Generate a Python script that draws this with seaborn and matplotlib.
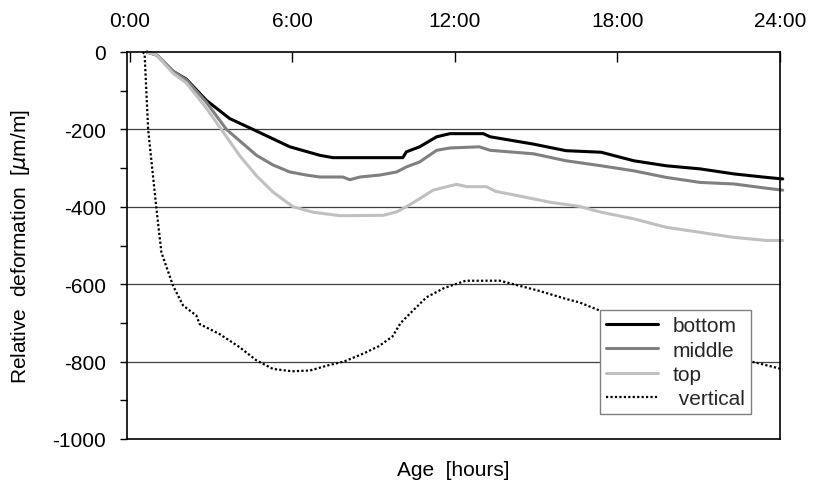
import numpy as np
import pandas as pd
import matplotlib
matplotlib.use("Agg")
import matplotlib.pyplot as plt
import seaborn as sns

# hours after casting, relative deformation in um/m
bottom_h = [0.63, 1.0, 1.6, 2.09, 2.83, 3.69, 4.55, 5.91, 7.02, 7.5, 10.08, 10.21, 10.7,
            11.33, 11.82, 13.05, 13.3, 14.9, 16.1, 17.4, 18.6, 19.8, 21.05, 22.3, 23.5, 24.1]
bottom_v = [0, -8, -50, -70, -125, -172, -200, -245, -267, -273, -273, -258, -245,
            -219, -211, -211, -219, -238, -255, -259, -281, -294, -302, -315, -324, -328]

middle_h = [0.63, 1.0, 1.6, 2.09, 2.83, 3.57, 4.68, 5.29, 5.91, 6.52, 7.02, 7.87, 8.12,
            8.5, 9.23, 9.85, 10.21, 10.7, 11.33, 11.82, 12.9, 13.3, 14.9, 16.1, 17.4,
            18.6, 19.8, 21.05, 22.3, 23.5, 24.1]
middle_v = [0, -8, -50, -72, -130, -200, -267, -292, -310, -318, -323, -323, -330,
            -323, -318, -310, -297, -284, -254, -248, -245, -254, -263, -281, -294,
            -307, -324, -337, -341, -352, -357]

top_h = [0.63, 1.0, 1.6, 2.09, 2.83, 3.38, 4.06, 4.68, 5.29, 6.03, 6.77, 7.76, 9.36,
         9.85, 10.21, 10.7, 11.2, 11.7, 12.07, 12.44, 13.17, 13.5, 14.3, 15.5, 16.6,
         17.4, 18.6, 19.8, 21.05, 22.3, 23.5, 24.1]
top_v = [0, -8, -55, -80, -145, -200, -268, -320, -362, -400, -414, -423, -422,
         -413, -400, -379, -357, -348, -342, -348, -348, -360, -371, -388, -399,
         -414, -431, -453, -466, -479, -487, -487]

vertical_h = [0.48, 0.55, 0.68, 0.98, 1.17, 1.6, 1.97, 2.46, 2.58, 3.32, 4.06, 4.68, 5.29,
              6.0, 6.65, 7.3, 7.9, 8.6, 9.2, 9.7, 10.0, 10.5, 10.95, 11.6, 12.4, 13.66,
              15.1, 16.1, 16.6, 17.2, 18.5, 20.0, 21.5, 23.3, 24.1]
vertical_v = [0, -5, -200, -401, -518, -604, -655, -681, -703, -729, -763, -797, -819,
              -825, -823, -810, -800, -780, -760, -735, -700, -665, -634, -610, -591, -591,
              -617, -638, -647, -664, -700, -740, -775, -806, -820]

top_ticks = [0, 6, 12, 18, 24]
top_labels = ["0:00", "6:00", "12:00", "18:00", "24:00"]
y_ticks = [0, -200, -400, -600, -800, -1000]

sns.set_theme(style="white")
plt.rcParams['font.family'] = ['Liberation Sans', 'DejaVu Sans']

fig = plt.figure(figsize=(8.17, 4.89), dpi=100)
ax = fig.add_axes([127 / 817, 1 - 440 / 489, 653 / 817, 387 / 489])

for y in [-200, -400, -600, -800]:
    ax.axhline(y, color='0.25', lw=0.9, zorder=1)

sns.lineplot(x=bottom_h, y=bottom_v, ax=ax, color='black', lw=2.2, label='bottom')
sns.lineplot(x=middle_h, y=middle_v, ax=ax, color='#808080', lw=2.2, label='middle')
sns.lineplot(x=top_h, y=top_v, ax=ax, color='#c0c0c0', lw=2.2, label='top')
sns.lineplot(x=vertical_h, y=vertical_v, ax=ax, color='black', lw=1.6,
             linestyle=(0, (1, 1)), label=' vertical')
for line in ax.lines:
    line.set_clip_on(False)

ax.set_xlim(-0.1, 24)
ax.set_ylim(-1000, 0)

# time axis sits on top, bottom only carries the title
ax.xaxis.tick_top()
ax.set_xticks(top_ticks)
ax.set_xticklabels(top_labels)
ax.tick_params(axis='x', direction='in', length=7, width=1, color='black',
               labelsize=15, pad=16, labelcolor='black')
ax.set_xlabel("Age  [hours]", fontsize=15, labelpad=15, color='black')
ax.xaxis.set_label_position('bottom')

ax.set_yticks(y_ticks)
ax.set_yticklabels([str(v) for v in y_ticks])
ax.set_yticks(np.arange(-900, 0, 200), minor=True)
ax.tick_params(axis='y', which='both', direction='out', length=5, width=1,
               color='black', left=True, labelsize=15, pad=10, labelcolor='black')
ax.set_ylabel(r"Relative  deformation  [$\mu$m/m]", fontsize=15, color='black')
ax.yaxis.set_label_coords(-0.145, 0.5)

for s in ax.spines.values():
    s.set_color('black')
    s.set_linewidth(1.2)

leg = ax.legend(loc='upper left', bbox_to_anchor=(0.724, 0.333), borderaxespad=0,
                fontsize=15, frameon=True, fancybox=False, framealpha=1,
                edgecolor='#808080', handlelength=2.5, handletextpad=0.7,
                labelspacing=0.25, borderpad=0.3)
leg.get_frame().set_linewidth(1.0)

fig.savefig("out.png", dpi=100)
